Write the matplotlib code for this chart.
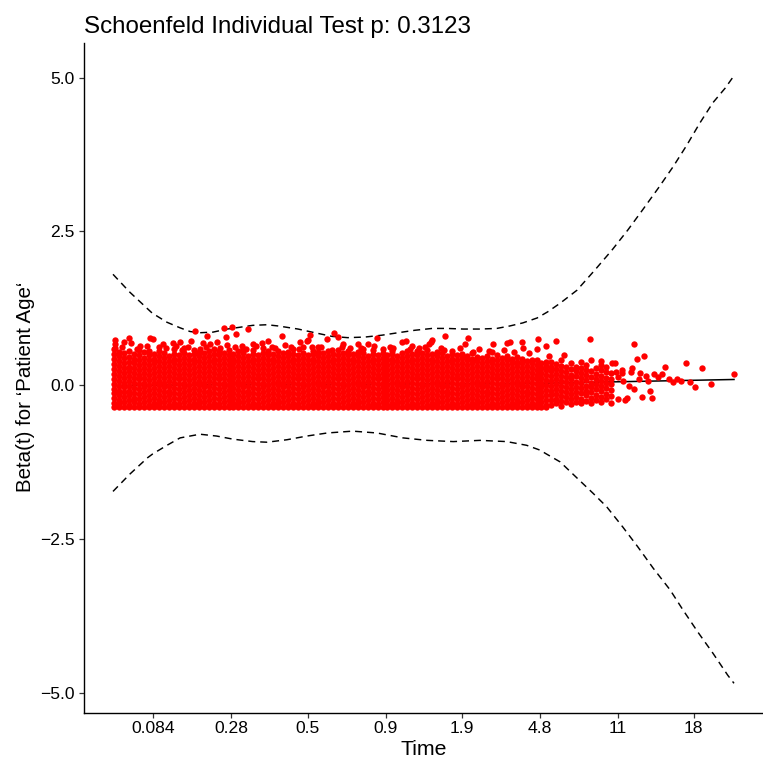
import matplotlib
matplotlib.use("Agg")
import matplotlib.pyplot as plt
from matplotlib.ticker import FuncFormatter

plt.rcParams['font.family'] = ['Liberation Sans', 'DejaVu Sans']

# x is the transformed (km) time scale, 0..100 across the event range
tick_pos = [6.4, 19.0, 31.4, 43.9, 56.2, 68.8, 81.3, 93.5]
tick_labels = ['0.084', '0.28', '0.5', '0.9', '1.9', '4.8', '11', '18']

# smoothed beta(t) and its confidence band
fit_x = [0, 10, 20, 30, 40, 50, 60, 70, 80, 90, 100]
fit_y = [-0.01, 0.0, 0.01, 0.01, 0.01, 0.02, 0.02, 0.03, 0.05, 0.07, 0.09]

upper_x = [0.0, 2.7, 6.3, 8.7, 10.8, 12.4, 14.0, 16.1, 18.4, 20.5, 22.5, 24.8,
           26.6, 29.8, 32.5, 35.3, 37.8, 40.6, 43.3, 45.9, 48.6, 51.4, 53.8,
           56.4, 59.1, 61.8, 63.9, 66.0, 68.3, 70.0, 72.0, 74.7, 77.6, 80.4,
           82.9, 85.3, 87.8, 90.2, 92.4, 94.5, 96.6, 98.6, 100.0]
upper_y = [1.80, 1.51, 1.17, 1.02, 0.93, 0.87, 0.85, 0.86, 0.91, 0.94, 0.97, 0.98,
           0.96, 0.91, 0.85, 0.79, 0.77, 0.78, 0.81, 0.85, 0.89, 0.92, 0.92,
           0.91, 0.91, 0.92, 0.96, 1.01, 1.09, 1.19, 1.33, 1.54, 1.87, 2.20,
           2.52, 2.85, 3.20, 3.55, 3.90, 4.26, 4.59, 4.83, 5.03]

lower_x = [0.0, 2.7, 5.6, 6.4, 8.7, 10.8, 14.0, 16.7, 19.3, 22.5, 24.8, 28.0,
           31.2, 34.5, 38.6, 42.5, 46.7, 50.6, 54.8, 59.1, 63.4, 66.6, 68.8,
           69.6, 72.0, 74.7, 77.3, 79.5, 82.1, 84.5, 87.0, 89.7, 91.8, 94.2,
           96.6, 99.0, 100.0]
lower_y = [-1.73, -1.45, -1.18, -1.12, -0.98, -0.86, -0.80, -0.83, -0.88, -0.92,
           -0.93, -0.89, -0.83, -0.78, -0.75, -0.78, -0.86, -0.90, -0.92, -0.90,
           -0.92, -0.98, -1.06, -1.11, -1.25, -1.51, -1.76, -1.98, -2.31, -2.63,
           -2.98, -3.33, -3.66, -4.02, -4.36, -4.72, -4.85]

# scaled Schoenfeld residuals, dense part: one column per time step,
# residuals given in hundredths
band_cols = [
    (0.2, "-36 -29 -21 -13 -6 2 10 18 26 34 42 50 58"),
    (1.0, "-35 -31 -24 -16 -9 -1 7 15 23 31 39 47 54"),
    (1.8, "-36 -28 -20 -12 -4 4 12 20 28 36 44 52"),
    (2.6, "-36 -32 -25 -17 -9 -1 6 14 22 30 38 46 55"),
    (3.4, "-36 -28 -21 -13 -5 3 11 19 27 35 43 51"),
    (4.2, "-35 -31 -23 -15 -7 1 9 17 25 33 41 49 57"),
    (5.0, "-36 -28 -20 -12 -4 4 12 20 28 36 44 53"),
    (5.8, "-36 -32 -24 -16 -8 0 8 16 24 32 40 48 56"),
    (6.6, "-36 -29 -21 -13 -5 3 11 19 27 35 43 50"),
    (7.4, "-35 -31 -24 -16 -8 0 7 15 23 31 39 47 55 62"),
    (8.2, "-36 -28 -20 -12 -4 4 12 20 28 36 44 52"),
    (9.0, "-36 -32 -25 -17 -9 -1 7 15 23 31 39 47"),
    (9.8, "-36 -29 -21 -13 -5 3 11 19 27 35 43 51 59"),
    (10.6, "-35 -31 -23 -15 -7 1 9 17 25 33 41 49"),
    (11.4, "-36 -28 -20 -12 -4 4 12 20 28 36 44 52 60"),
    (12.2, "-36 -32 -24 -16 -8 0 8 16 24 32 40 48"),
    (13.0, "-36 -29 -21 -13 -5 3 11 19 27 35 43 51 57"),
    (13.8, "-35 -31 -24 -16 -8 0 7 15 23 31 39 47 54"),
    (14.6, "-36 -28 -20 -12 -4 4 12 20 28 36 44 52"),
    (15.4, "-36 -32 -25 -17 -9 -1 7 15 23 31 39 47 55"),
    (16.2, "-36 -29 -21 -13 -5 3 11 19 27 35 43 51 58"),
    (17.0, "-35 -31 -23 -15 -7 1 9 17 25 33 41 49 56"),
    (17.8, "-36 -28 -20 -12 -4 4 12 20 28 36 44 52"),
    (18.6, "-36 -32 -24 -16 -8 0 8 16 24 32 40 48 57"),
    (19.4, "-36 -29 -21 -13 -5 3 11 19 27 35 43 51"),
    (20.2, "-35 -31 -24 -16 -8 0 7 15 23 31 39 47 55"),
    (21.0, "-36 -28 -20 -12 -4 4 12 20 28 36 44 52 59"),
    (21.8, "-36 -32 -25 -17 -9 -1 7 15 23 31 39 47"),
    (22.6, "-36 -29 -21 -13 -5 3 11 19 27 35 43 51 57"),
    (23.4, "-35 -31 -23 -15 -7 1 9 17 25 33 41 49"),
    (24.2, "-36 -28 -20 -12 -4 4 12 20 28 36 44 52 60"),
    (25.0, "-36 -32 -24 -16 -8 0 8 16 24 32 40 48 55"),
    (25.8, "-36 -29 -21 -13 -5 3 11 19 27 35 43 51"),
    (26.6, "-35 -31 -24 -16 -8 0 7 15 23 31 39 47 56"),
    (27.4, "-36 -28 -20 -12 -4 4 12 20 28 36 44 52"),
    (28.2, "-36 -32 -25 -17 -9 -1 7 15 23 31 39 47 54"),
    (29.0, "-36 -29 -21 -13 -5 3 11 19 27 35 43 51 58"),
    (29.8, "-35 -31 -23 -15 -7 1 9 17 25 33 41 49"),
    (30.6, "-36 -28 -20 -12 -4 4 12 20 28 36 44 52 62"),
    (31.4, "-36 -32 -24 -16 -8 0 8 16 24 32 40 48"),
    (32.2, "-36 -29 -21 -13 -5 3 11 19 27 35 43 51 56"),
    (33.0, "-35 -31 -24 -16 -8 0 7 15 23 31 39 47 53"),
    (33.8, "-36 -28 -20 -12 -4 4 12 20 28 36 44 52"),
    (34.6, "-36 -32 -25 -17 -9 -1 7 15 23 31 39 47 55"),
    (35.4, "-36 -29 -21 -13 -5 3 11 19 27 35 43 50"),
    (36.2, "-35 -31 -23 -15 -7 1 9 17 25 33 41 49 57"),
    (37.0, "-36 -28 -20 -12 -4 4 12 20 28 36 44 52"),
    (37.8, "-36 -32 -24 -16 -8 0 8 16 24 32 40 48 56"),
    (38.6, "-36 -29 -21 -13 -5 3 11 19 27 35 43 51"),
    (39.4, "-35 -31 -24 -16 -8 0 7 15 23 31 39 47 54"),
    (40.2, "-36 -28 -20 -12 -4 4 12 20 28 36 44 52 59"),
    (41.0, "-36 -32 -25 -17 -9 -1 7 15 23 31 39 47"),
    (41.8, "-36 -29 -21 -13 -5 3 11 19 27 35 43 51 57"),
    (42.6, "-35 -31 -23 -15 -7 1 9 17 25 33 41 49"),
    (43.4, "-36 -28 -20 -12 -4 4 12 20 28 36 44 52 58"),
    (44.2, "-36 -32 -24 -16 -8 0 8 16 24 32 40 48"),
    (45.0, "-36 -29 -21 -13 -5 3 11 19 27 35 43 51 55"),
    (45.8, "-35 -31 -24 -16 -8 0 7 15 23 31 39 47"),
    (46.6, "-36 -28 -20 -12 -4 4 12 20 28 36 44 52"),
    (47.4, "-36 -32 -25 -17 -9 -1 7 15 23 31 39 47 56"),
    (48.2, "-36 -29 -21 -13 -5 3 11 19 27 35 43 51"),
    (49.0, "-35 -31 -23 -15 -7 1 9 17 25 33 41 49 55"),
    (49.8, "-36 -28 -20 -12 -4 4 12 20 28 36 44 52"),
    (50.6, "-36 -32 -24 -16 -8 0 8 16 24 32 40 48 57"),
    (51.4, "-36 -29 -21 -13 -5 3 11 19 27 35 43 50"),
    (52.2, "-35 -31 -24 -16 -8 0 7 15 23 31 39 47 53"),
    (53.0, "-36 -28 -20 -12 -4 4 12 20 28 36 44 52"),
    (53.8, "-36 -32 -25 -17 -9 -1 7 15 23 31 39 47"),
    (54.6, "-36 -29 -21 -13 -5 3 11 19 27 35 43 51 56"),
    (55.4, "-35 -31 -23 -15 -7 1 9 17 25 33 41 48"),
    (56.2, "-36 -28 -20 -12 -4 4 12 20 28 36 44 50"),
    (57.0, "-36 -32 -24 -16 -8 0 8 16 24 32 40 47"),
    (57.8, "-36 -29 -21 -13 -5 3 11 19 27 35 43 52"),
    (58.6, "-35 -31 -24 -16 -8 0 7 15 23 31 39 46"),
    (59.4, "-36 -28 -20 -12 -4 4 12 20 28 36 44"),
    (60.2, "-36 -32 -25 -17 -9 -1 7 15 23 31 39 47"),
    (61.0, "-36 -29 -21 -13 -5 3 11 19 27 35 42"),
    (61.8, "-35 -31 -23 -15 -7 1 9 17 25 33 41 48"),
    (62.6, "-36 -28 -20 -12 -4 4 12 20 28 36 44"),
    (63.4, "-36 -32 -24 -16 -8 0 8 16 24 32 40 47"),
    (64.2, "-36 -29 -21 -13 -5 3 11 19 27 35 42"),
    (65.0, "-35 -31 -24 -16 -8 0 7 15 23 31 38 45"),
    (65.8, "-36 -28 -20 -12 -4 4 12 20 28 36 43"),
    (66.6, "-36 -32 -25 -17 -9 -1 7 15 23 31 39"),
    (67.4, "-36 -29 -21 -13 -5 3 11 19 27 35 41"),
    (68.2, "-35 -31 -23 -15 -7 1 9 17 25 33 40"),
    (69.0, "-36 -28 -20 -12 -4 4 12 20 28 36"),
    (69.8, "-35 -32 -24 -16 -8 0 8 16 24 31 38"),
    (70.6, "-33 -25 -17 -9 -1 7 15 23 30 37"),
    (71.4, "-30 -22 -14 -6 2 10 18 26 34"),
    (72.2, "-34 -26 -18 -10 -2 6 14 22 31 41"),
    (73.0, "-28 -20 -11 -3 5 13 21 29"),
    (73.8, "-31 -23 -15 -7 1 9 17 26 35"),
    (74.6, "-27 -19 -11 -3 5 14 22 30"),
    (75.4, "-30 -22 -13 -5 3 12 20 28 38"),
    (76.2, "-26 -17 -9 -1 8 16 24 33"),
    (77.0, "-29 -21 -12 -4 4 13 22 41"),
    (77.8, "-24 -16 -7 1 10 18 27"),
    (78.6, "-27 -19 -10 -2 7 15 24 33 39"),
    (79.4, "-22 -14 -5 3 12 21 30"),
    (80.2, "-29 -18 -8 1 9 19"),
]

# residuals sticking out above the dense band
fringe = [(0.3, 0.73), (0.3, 0.66), (0.3, 0.60), (1.8, 0.70), (2.6, 0.77),
          (2.9, 0.68), (4.3, 0.63), (6.0, 0.76), (6.4, 0.74), (8.1, 0.67),
          (9.7, 0.68), (10.8, 0.70), (11.1, 0.57), (12.6, 0.72), (13.2, 0.88),
          (14.0, 0.58), (14.5, 0.68), (15.1, 0.80), (15.6, 0.66), (16.7, 0.70),
          (17.9, 0.93), (18.2, 0.78), (18.4, 0.65), (19.2, 0.95), (19.8, 0.83),
          (20.8, 0.63), (21.7, 0.91), (22.5, 0.67), (24.0, 0.68), (25.0, 0.72),
          (25.6, 0.62), (27.2, 0.80), (27.7, 0.65), (30.1, 0.70), (31.2, 0.71),
          (31.4, 0.73), (31.7, 0.81), (32.0, 0.62), (33.0, 0.62), (34.5, 0.75),
          (35.3, 0.57), (35.6, 0.85), (36.2, 0.78), (37.0, 0.67), (38.2, 0.60),
          (39.5, 0.67), (41.1, 0.67), (42.5, 0.76), (45.1, 0.60), (46.5, 0.70),
          (47.2, 0.72), (48.1, 0.63), (49.3, 0.60), (50.9, 0.67), (51.2, 0.70),
          (51.4, 0.73), (52.8, 0.60), (53.5, 0.80), (56.7, 0.67), (57.2, 0.77),
          (58.0, 0.54), (61.0, 0.54), (61.2, 0.67), (63.4, 0.68), (63.9, 0.70),
          (65.9, 0.70), (66.0, 0.60), (68.3, 0.58), (68.4, 0.75), (69.7, 0.63),
          (71.3, 0.72), (76.8, 0.75),
          # ragged top edge of the band
          (1.4, 0.61), (3.8, 0.59), (5.4, 0.64), (8.6, 0.60), (10.2, 0.63),
          (12.0, 0.62), (14.9, 0.61), (17.3, 0.60), (19.7, 0.62), (21.4, 0.58),
          (23.1, 0.63), (26.1, 0.60), (28.7, 0.61), (30.0, 0.58), (33.5, 0.61),
          (36.8, 0.61), (39.9, 0.60), (42.1, 0.63), (44.6, 0.61), (47.9, 0.58),
          (50.2, 0.61), (53.3, 0.57), (55.8, 0.60), (59.0, 0.58), (60.6, 0.55),
          (62.9, 0.57), (64.6, 0.53), (67.0, 0.52), (70.2, 0.47), (72.6, 0.48)]

# the few late events on the right
tail = [(80.4, 0.36), (80.8, 0.36), (81.0, 0.21), (81.3, 0.13), (81.3, -0.23),
        (82.0, 0.24), (82.0, 0.20), (82.1, 0.07), (82.4, -0.24), (82.8, -0.21),
        (83.1, -0.02), (83.4, 0.21), (83.6, 0.28), (83.9, 0.67), (83.9, -0.07),
        (84.4, 0.42), (84.7, 0.10), (84.9, 0.20), (85.2, -0.20), (85.5, 0.47),
        (85.8, 0.15), (86.2, 0.07), (86.5, -0.10), (86.8, -0.21), (87.1, 0.18),
        (87.8, 0.13), (88.4, 0.18), (88.9, 0.29), (89.5, 0.10), (90.2, 0.05),
        (90.8, 0.10), (91.5, 0.07), (92.3, 0.36), (92.9, 0.05), (93.7, -0.03),
        (94.8, 0.28), (96.3, 0.02), (100.0, 0.18)]

res_x, res_y = [], []
for x, col in band_cols:
    for v in col.split():
        res_x.append(x)
        res_y.append(int(v) / 100)
for x, y in fringe + tail:
    res_x.append(x)
    res_y.append(y)

fig = plt.figure(figsize=(7.63, 7.63), dpi=100)
ax = fig.add_axes([84 / 763, 50 / 763, 679 / 763, 670 / 763])

ax.plot(fit_x, fit_y, color='black', lw=1.1, zorder=2)
ax.plot(upper_x, upper_y, color='black', lw=1.05, dashes=(4.8, 3.4), zorder=2)
ax.plot(lower_x, lower_y, color='black', lw=1.05, dashes=(4.8, 3.4), zorder=2)
ax.scatter(res_x, res_y, s=21, color='#FF0000', linewidths=0, zorder=3)

ax.set_xlim(-4.67, 104.67)
ax.set_ylim(-5.333, 5.561)
ax.set_xticks(tick_pos)
ax.set_xticklabels(tick_labels)
ax.set_yticks([-5.0, -2.5, 0.0, 2.5, 5.0])
ax.yaxis.set_major_formatter(FuncFormatter(lambda v, p: f'{v:.1f}'.replace('-', '\u2212')))

for side in ['top', 'right']:
    ax.spines[side].set_visible(False)
for side in ['left', 'bottom']:
    ax.spines[side].set_linewidth(1.0)
    ax.spines[side].set_color('black')
ax.tick_params(axis='both', length=3.6, width=0.9, color='#333333',
               labelsize=12.6, labelcolor='black')
ax.tick_params(axis='x', pad=2.5)
ax.tick_params(axis='y', pad=3)

ax.set_title('Schoenfeld Individual Test p: 0.3123', loc='left', fontsize=17.4, pad=7)
ax.set_xlabel('Time', fontsize=15.3)
ax.set_ylabel('Beta(t) for \u2018Patient Age\u2018', fontsize=14.8)
ax.xaxis.set_label_coords(0.5, -0.040)
ax.yaxis.set_label_coords(-0.072, 0.487)

plt.savefig('out.png', dpi=100)
